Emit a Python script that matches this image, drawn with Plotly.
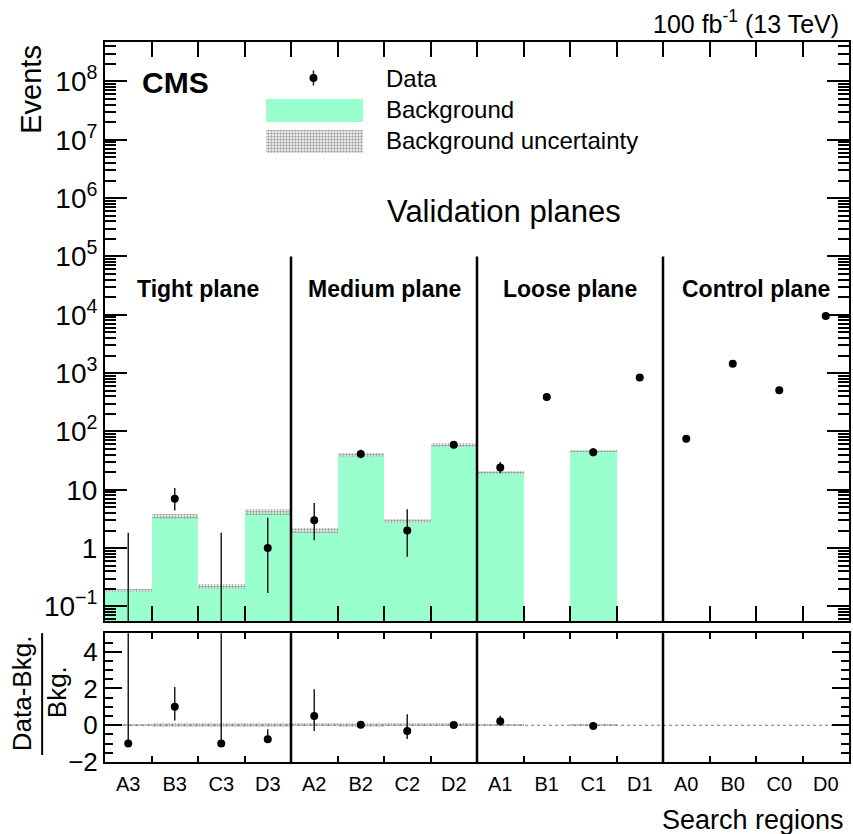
import plotly.graph_objects as go

# ---- data -------------------------------------------------------------
categories = ["A3", "B3", "C3", "D3", "A2", "B2", "C2", "D2",
              "A1", "B1", "C1", "D1", "A0", "B0", "C0", "D0"]
plane_names = ["Tight plane", "Medium plane", "Loose plane", "Control plane"]

data_counts = [0, 7, 0, 1, 3, 41, 2, 59, 24, 390, 44, 840, 75, 1440, 508, 9500]
data_err_lo = [0, 2.58, 0, 0.83, 1.63, 6.38, 1.29, 7.66, 4.86, 19.7, 6.61,
               29.0, 8.6, 37.9, 22.5, 97.0]
data_err_hi = [1.84, 3.77, 1.84, 2.30, 2.92, 7.46, 2.64, 8.72, 5.96, 20.8, 7.69,
               30.0, 9.7, 38.9, 23.5, 98.0]

bkg = [0.19, 3.5, 0.22, 4.2, 2.0, 40, 2.9, 58, 19.8, 0, 46, 0, 0, 0, 0, 0]
bkg_unc = [0.013, 0.35, 0.02, 0.5, 0.17, 3.5, 0.25, 4.6, 1.3, 0, 2.0, 0, 0, 0, 0, 0]

# ---- derived quantities -------------------------------------------------
n = len(categories)
centers = [i + 0.5 for i in range(n)]
inner_edges = list(range(1, n))
per_plane = n // len(plane_names)
plane_edges = [per_plane * k for k in range(1, len(plane_names))]
plane_centers = [per_plane * k + per_plane / 2 for k in range(len(plane_names))]

YLOG = [-1.25, 8.676]
floor_val = 10 ** (YLOG[0] - 1)

FONT = "Liberation Sans, Arial, Helvetica, sans-serif"
GREEN = "#99ffcc"
BLACK = "black"


def pos(v):
    return v if v > 0 else None


bkg_bar = [pos(b) for b in bkg]
band_base = [b - u if b > 0 else None for b, u in zip(bkg, bkg_unc)]
band_h = [2 * u if b > 0 else None for b, u in zip(bkg, bkg_unc)]

# ratio (data - bkg) / bkg
ratio_x, ratio_y, ratio_lo, ratio_hi = [], [], [], []
rband_base, rband_h = [], []
for c, d, lo, hi, b, u in zip(centers, data_counts, data_err_lo, data_err_hi, bkg, bkg_unc):
    if b > 0:
        ratio_x.append(c)
        ratio_y.append((d - b) / b)
        ratio_lo.append(lo / b)
        ratio_hi.append(hi / b)
        rband_base.append(-u / b)
        rband_h.append(2 * u / b)
    else:
        rband_base.append(None)
        rband_h.append(None)

# points with non-zero counts vs. empty bins (only the upper error is drawn)
nz_x = [c for c, d in zip(centers, data_counts) if d > 0]
nz_y = [d for d in data_counts if d > 0]
nz_lo = [lo for d, lo in zip(data_counts, data_err_lo) if d > 0]
nz_hi = [hi for d, hi in zip(data_counts, data_err_hi) if d > 0]
zero_x, zero_y = [], []
for c, d, hi in zip(centers, data_counts, data_err_hi):
    if d == 0:
        zero_x += [c, c, None]
        zero_y += [floor_val, hi, None]

fig = go.Figure()

pattern = dict(shape=".", size=3, solidity=0.5, fgcolor="#444444",
               bgcolor="rgba(255,255,255,0.55)")

# ---- upper panel ----------------------------------------------------------
fig.add_trace(go.Bar(x=centers, y=bkg_bar, width=1.0, marker=dict(color=GREEN, line_width=0),
                     xaxis="x", yaxis="y", showlegend=False, hoverinfo="skip"))
fig.add_trace(go.Bar(x=centers, y=band_h, base=band_base, width=1.0,
                     marker=dict(color="rgba(0,0,0,0)", line_width=0, pattern=pattern),
                     xaxis="x", yaxis="y", showlegend=False, hoverinfo="skip"))

sep_x, sep_y = [], []
for e in plane_edges:
    sep_x += [e, e, None]
    sep_y += [floor_val, 1e5, None]
fig.add_trace(go.Scatter(x=sep_x, y=sep_y, mode="lines", line=dict(color=BLACK, width=2.5),
                         xaxis="x", yaxis="y", showlegend=False, hoverinfo="skip"))

fig.add_trace(go.Scatter(x=zero_x, y=zero_y, mode="lines", line=dict(color="#222", width=1.5),
                         xaxis="x", yaxis="y", showlegend=False, hoverinfo="skip"))
fig.add_trace(go.Scatter(x=nz_x, y=nz_y, mode="markers",
                         marker=dict(color=BLACK, size=8),
                         error_y=dict(type="data", symmetric=False, array=nz_hi, arrayminus=nz_lo,
                                      color="#222", thickness=1.5, width=0),
                         xaxis="x", yaxis="y", showlegend=False))

# ---- lower panel ----------------------------------------------------------
fig.add_trace(go.Bar(x=centers, y=rband_h, base=rband_base, width=1.0,
                     marker=dict(color="rgba(0,0,0,0)", line_width=0, pattern=pattern),
                     xaxis="x2", yaxis="y2", showlegend=False, hoverinfo="skip"))
fig.add_trace(go.Scatter(x=[0, n], y=[0, 0], mode="lines",
                         line=dict(color="#777", width=1, dash="dot"),
                         xaxis="x2", yaxis="y2", showlegend=False, hoverinfo="skip"))
sep2_x, sep2_y = [], []
for e in plane_edges:
    sep2_x += [e, e, None]
    sep2_y += [-2, 5, None]
fig.add_trace(go.Scatter(x=sep2_x, y=sep2_y, mode="lines", line=dict(color=BLACK, width=2.5),
                         xaxis="x2", yaxis="y2", showlegend=False, hoverinfo="skip"))
fig.add_trace(go.Scatter(x=ratio_x, y=ratio_y, mode="markers",
                         marker=dict(color=BLACK, size=8),
                         error_y=dict(type="data", symmetric=False, array=ratio_hi,
                                      arrayminus=ratio_lo, color="#222", thickness=1.5, width=0),
                         xaxis="x2", yaxis="y2", showlegend=False))

# ---- legend keys (drawn in paper-unit helper axes) ------------------------
fig.add_trace(go.Bar(x=[0.2815], y=[0.0319], base=[0.8889], width=[0.1314],
                     marker=dict(color=GREEN, line_width=0),
                     xaxis="x3", yaxis="y3", showlegend=False, hoverinfo="skip"))
fig.add_trace(go.Bar(x=[0.2815], y=[0.0320], base=[0.8458], width=[0.1314],
                     marker=dict(color="rgba(0,0,0,0)", line_width=0, pattern=pattern),
                     xaxis="x3", yaxis="y3", showlegend=False, hoverinfo="skip"))
fig.add_trace(go.Scatter(x=[0.2802], y=[0.95], mode="markers",
                         marker=dict(color=BLACK, size=8),
                         error_y=dict(type="constant", value=0.0104, color="#222",
                                      thickness=1.5, width=0),
                         xaxis="x3", yaxis="y3", showlegend=False, hoverinfo="skip"))

# ---- axes -------------------------------------------------------------------
main_tickvals = [10 ** k for k in range(-1, 9)]
main_ticktext = []
for k in range(-1, 9):
    if k == 0:
        main_ticktext.append("1")
    elif k == 1:
        main_ticktext.append("10")
    else:
        main_ticktext.append("10<sup>%s</sup>" % (str(k).replace("-", "−")))
minor_vals = [m * 10 ** k for k in range(-2, 9) for m in range(2, 10)]

axis_common = dict(showline=True, linewidth=2, linecolor=BLACK, mirror="allticks",
                   showgrid=False, zeroline=False, tickcolor=BLACK, tickwidth=1.5)

fig.update_layout(
    width=853, height=834,
    margin=dict(l=105, r=2, t=42, b=72),
    paper_bgcolor="white", plot_bgcolor="rgba(0,0,0,0)",
    barmode="overlay", bargap=0,
    font=dict(family=FONT, color=BLACK),
    showlegend=False,
    xaxis=dict(domain=[0, 1], range=[0, n], anchor="y", tickmode="array",
               tickvals=inner_edges, showticklabels=False, ticks="inside", ticklen=15,
               **axis_common),
    yaxis=dict(domain=[0.1958, 1], type="log", range=YLOG, anchor="x",
               tickmode="array", tickvals=main_tickvals, ticktext=main_ticktext,
               ticks="inside", ticklen=22, tickfont=dict(size=28),
               minor=dict(tickmode="array", tickvals=minor_vals, ticks="inside",
                          ticklen=11, tickwidth=1.5, tickcolor=BLACK),
               **axis_common),
    xaxis2=dict(domain=[0, 1], range=[0, n], anchor="y2", tickmode="array",
                tickvals=centers, ticktext=categories, ticks="", tickfont=dict(size=20),
                ticklabelstandoff=3,
                minor=dict(tickmode="array", tickvals=inner_edges, ticks="inside",
                           ticklen=6, tickwidth=1.5, tickcolor=BLACK),
                **axis_common),
    yaxis2=dict(domain=[0, 0.1787], range=[-2, 5], anchor="x2", tickmode="array",
                tickvals=[-2, 0, 2, 4], ticktext=["−2", "0", "2", "4"],
                ticks="inside", ticklen=17, tickfont=dict(size=26),
                minor=dict(dtick=0.5, tick0=0, ticks="inside", ticklen=8, tickwidth=1.5,
                           tickcolor=BLACK),
                **axis_common),
    xaxis3=dict(domain=[0, 1], range=[0, 1], anchor="y3", visible=False, fixedrange=True),
    yaxis3=dict(domain=[0, 1], range=[0, 1], anchor="x3", visible=False, fixedrange=True),
)

# ---- text -------------------------------------------------------------------
ann = []
ann.append(dict(text="100 fb<sup>-1</sup> (13 TeV)", xref="paper", yref="paper",
                x=0.989, y=1.0278, xanchor="right", yanchor="middle",
                showarrow=False, font=dict(size=25)))
ann.append(dict(text="<b>CMS</b>", xref="paper", yref="paper", x=0.0469, y=0.944,
                xanchor="left", yanchor="middle", showarrow=False, font=dict(size=30)))
for label, yy in zip(["Data", "Background", "Background uncertainty"], [0.95, 0.9069, 0.8625]):
    ann.append(dict(text=label, xref="paper", yref="paper", x=0.3753, y=yy,
                    xanchor="left", yanchor="middle", showarrow=False, font=dict(size=24)))
ann.append(dict(text="Validation planes", xref="paper", yref="paper", x=0.536, y=0.7639,
                xanchor="center", yanchor="middle", showarrow=False, font=dict(size=31)))
for name, c in zip(plane_names, plane_centers):
    ann.append(dict(text="<b>%s</b>" % name, xref="x", yref="paper", x=c, y=0.6569,
                    xanchor="center", yanchor="middle", showarrow=False, font=dict(size=23)))
ann.append(dict(text="Events", xref="paper", yref="paper", x=-0.1005, y=0.9986,
                xanchor="center", yanchor="top", textangle=-90, showarrow=False,
                font=dict(size=29)))
ann.append(dict(text="Data-Bkg.", xref="paper", yref="paper", x=-0.1113, y=0.0958,
                xanchor="center", yanchor="middle", textangle=-90, showarrow=False,
                font=dict(size=26)))
ann.append(dict(text="Bkg.", xref="paper", yref="paper", x=-0.0643, y=0.0972,
                xanchor="center", yanchor="middle", textangle=-90, showarrow=False,
                font=dict(size=26)))
ann.append(dict(text="Search regions", xref="paper", yref="paper", x=0.996, y=-0.0806,
                xanchor="right", yanchor="middle", showarrow=False, font=dict(size=27)))
fig.update_layout(annotations=ann)

fig.add_shape(type="line", xref="paper", yref="paper", x0=-0.0845, x1=-0.0845,
              y0=0.0097, y1=0.179, line=dict(color=BLACK, width=2))

fig.write_html("out.html")
